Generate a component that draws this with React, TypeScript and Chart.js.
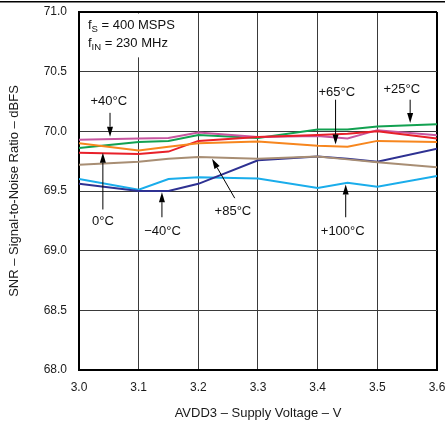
import React, { useEffect, useRef } from "react";
import { Chart, registerables } from "chart.js";

Chart.register(...registerables);

// ---- data ----
const voltages = [3.0, 3.1, 3.15, 3.2, 3.3, 3.4, 3.45, 3.5, 3.6];
const snrPlus40 = [69.93, 69.94, 69.945, 69.99, 69.953, 69.96, 69.94, 70.01, 69.967];
const snrPlus25 = [69.86, 69.91, 69.92, 69.97, 69.945, 70.015, 70.015, 70.04, 70.06];
const snrZero = [69.82, 69.81, 69.83, 69.92, 69.953, 69.97, 69.98, 70.0, 69.94];
const snrPlus65 = [69.9, 69.84, 69.87, 69.9, 69.915, 69.88, 69.87, 69.92, 69.91];
const snrPlus85 = [69.72, 69.745, 69.77, 69.785, 69.77, 69.79, 69.765, 69.74, 69.7];
const snrMinus40 = [69.56, 69.5, 69.5, 69.56, 69.757, 69.79, 69.77, 69.745, 69.855];
const snrPlus100 = [69.6, 69.51, 69.6, 69.615, 69.605, 69.525, 69.57, 69.535, 69.625];

const seriesNames = ["+65°C", "0°C", "+85°C", "-40°C", "+100°C", "+40°C", "+25°C"];
const seriesColors = ["#F7861E", "#E8202A", "#A88E74", "#2E3192", "#1AADEB", "#C756A0", "#12A151"];
const seriesValues = [snrPlus65, snrZero, snrPlus85, snrMinus40, snrPlus100, snrPlus40, snrPlus25];

const xTickValues = [3.0, 3.1, 3.2, 3.3, 3.4, 3.5, 3.6];
const yTickValues = [68.0, 68.5, 69.0, 69.5, 70.0, 70.5, 71.0];

const xTitle = "AVDD3 \u2013 Supply Voltage \u2013 V";
const yTitle = "SNR \u2013 Signal-to-Noise Ratio \u2013 dBFS";

// annotation labels (data coords): text, textX, textY, arrowFromX, arrowFromY, arrowToX, arrowToY
const annotations: [string, number, number, number, number, number, number][] = [
  ["+40°C", 3.05, 70.25, 3.052, 70.155, 3.052, 69.955],
  ["0°C", 3.04, 69.245, 3.04, 69.345, 3.04, 69.82],
  ["\u221240°C", 3.14, 69.16, 3.139, 69.28, 3.139, 69.49],
  ["+85°C", 3.258, 69.33, 3.261, 69.44, 3.223, 69.77],
  ["+65°C", 3.432, 70.33, 3.43, 70.265, 3.43, 69.89],
  ["+25°C", 3.541, 70.35, 3.555, 70.265, 3.555, 70.07],
  ["+100°C", 3.442, 69.16, 3.447, 69.28, 3.447, 69.555],
];

const FONT = "'Liberation Sans', Arial, Helvetica, sans-serif";

function drawArrow(ctx: CanvasRenderingContext2D, x1: number, y1: number, x2: number, y2: number) {
  const ang = Math.atan2(y2 - y1, x2 - x1);
  const headLen = 10;
  const headW = 3;
  const bx = x2 - headLen * Math.cos(ang);
  const by = y2 - headLen * Math.sin(ang);
  ctx.beginPath();
  ctx.moveTo(x1, y1);
  ctx.lineTo(bx, by);
  ctx.strokeStyle = "#000";
  ctx.lineWidth = 1;
  ctx.stroke();
  ctx.beginPath();
  ctx.moveTo(x2, y2);
  ctx.lineTo(bx + headW * Math.sin(ang), by - headW * Math.cos(ang));
  ctx.lineTo(bx - headW * Math.sin(ang), by + headW * Math.cos(ang));
  ctx.closePath();
  ctx.fillStyle = "#000";
  ctx.fill();
}

const annotationPlugin = {
  id: "annot",
  beforeDatasetsDraw(chart: any) {
    const { ctx, chartArea, scales } = chart;
    const x = scales.x;
    const y = scales.y;
    ctx.save();
    const bx0 = chartArea.left + 1.5;
    const by0 = chartArea.top + 1.5;
    const bx1 = x.getPixelForValue(3.16);
    const by1 = y.getPixelForValue(70.62);
    ctx.fillStyle = "#fff";
    ctx.fillRect(bx0, by0, bx1 - bx0, by1 - by0);
    ctx.restore();
  },
  afterDatasetsDraw(chart: any) {
    const { ctx, scales } = chart;
    const x = scales.x;
    const y = scales.y;
    ctx.save();
    ctx.fillStyle = "#111";
    ctx.textBaseline = "middle";
    const drawSub = (main: string, sub: string, rest: string, vx: number, vy: number) => {
      let px = x.getPixelForValue(vx);
      const py = y.getPixelForValue(vy);
      ctx.textAlign = "left";
      ctx.font = `13px ${FONT}`;
      ctx.fillText(main, px, py);
      px += ctx.measureText(main).width;
      ctx.font = `9.5px ${FONT}`;
      ctx.fillText(sub, px, py + 4);
      px += ctx.measureText(sub).width;
      ctx.font = `13px ${FONT}`;
      ctx.fillText(rest, px, py);
    };
    drawSub("f", "S", " = 400 MSPS", 3.015, 70.89);
    drawSub("f", "IN", " = 230 MHz", 3.015, 70.74);

    ctx.font = `13px ${FONT}`;
    ctx.textAlign = "center";
    for (const [t, tx, ty, ax1, ay1, ax2, ay2] of annotations) {
      ctx.fillStyle = "#111";
      ctx.fillText(t, x.getPixelForValue(tx), y.getPixelForValue(ty));
      drawArrow(
        ctx,
        x.getPixelForValue(ax1),
        y.getPixelForValue(ay1),
        x.getPixelForValue(ax2),
        y.getPixelForValue(ay2)
      );
    }
    ctx.restore();
  },
  afterDraw(chart: any) {
    const { ctx, width } = chart;
    ctx.save();
    ctx.strokeStyle = "#000";
    ctx.lineWidth = 1.5;
    ctx.beginPath();
    ctx.moveTo(0, 1.75);
    ctx.lineTo(width, 1.75);
    ctx.stroke();
    ctx.restore();
  },
};

export default function App() {
  const canvasRef = useRef<HTMLCanvasElement | null>(null);

  useEffect(() => {
    if (!canvasRef.current) return;
    const datasets = seriesValues.map((vals, i) => ({
      label: seriesNames[i],
      data: vals.map((v, j) => ({ x: voltages[j], y: v })),
      borderColor: seriesColors[i],
      backgroundColor: seriesColors[i],
      borderWidth: 2,
      pointRadius: 0,
      tension: 0,
      fill: false,
    }));

    const gridColor = (ctx: any) => {
      const last = ctx.scale.ticks.length - 1;
      return ctx.index === last ? "#000" : "#3a3a3a";
    };
    const gridWidth = (ctx: any) => {
      const last = ctx.scale.ticks.length - 1;
      return ctx.index === last ? 2 : 1;
    };

    const chart = new Chart(canvasRef.current, {
      type: "line",
      data: { datasets },
      plugins: [annotationPlugin],
      options: {
        animation: false,
        responsive: true,
        maintainAspectRatio: false,
        layout: { padding: { left: 0, right: 0, top: 12, bottom: 0 } },
        plugins: {
          legend: { display: false },
          tooltip: { enabled: false },
        },
        scales: {
          x: {
            type: "linear",
            min: 3.0,
            max: 3.6,
            afterBuildTicks: (scale: any) => {
              scale.ticks = xTickValues.map((v) => ({ value: v }));
            },
            afterFit: (scale: any) => {
              scale.height = 52;
              scale.paddingRight = 8;
              scale.paddingLeft = 0;
            },
            ticks: {
              padding: 10,
              color: "#1a1a1a",
              font: { family: FONT, size: 12 },
              maxRotation: 0,
              autoSkip: false,
              callback: (v: any) => Number(v).toFixed(1),
            },
            grid: { color: gridColor, lineWidth: gridWidth, drawTicks: false },
            border: { color: "#000", width: 2 },
            title: {
              display: true,
              text: xTitle,
              color: "#1a1a1a",
              font: { family: FONT, size: 13 },
              padding: { top: 0, bottom: 1 },
            },
          },
          y: {
            type: "linear",
            min: 68.0,
            max: 71.0,
            afterBuildTicks: (scale: any) => {
              scale.ticks = yTickValues.map((v) => ({ value: v }));
            },
            afterFit: (scale: any) => {
              scale.width = 79;
              scale.paddingTop = 0;
              scale.paddingBottom = 0;
            },
            ticks: {
              padding: 12,
              color: "#1a1a1a",
              font: { family: FONT, size: 12 },
              autoSkip: false,
              callback: (v: any) => Number(v).toFixed(1),
            },
            grid: { color: gridColor, lineWidth: gridWidth, drawTicks: false },
            border: { color: "#000", width: 2 },
            title: {
              display: true,
              text: yTitle,
              color: "#1a1a1a",
              font: { family: FONT, size: 13 },
              padding: { top: 7, bottom: 0 },
            },
          },
        },
      },
    });
    return () => chart.destroy();
  }, []);

  return (
    <div style={{ position: "absolute", left: 0, top: 0, width: 445, height: 422, background: "#fff" }}>
      <canvas ref={canvasRef} />
    </div>
  );
}
